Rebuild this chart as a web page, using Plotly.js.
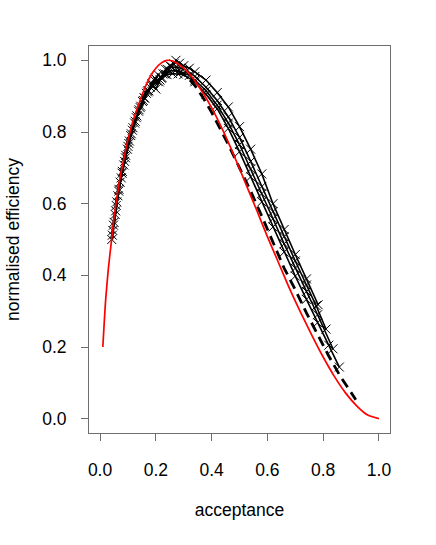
<!DOCTYPE html>
<html>
<head>
<meta charset="utf-8">
<script src="https://cdn.plot.ly/plotly-3.0.1.min.js"></script>
<style>html,body{margin:0;padding:0;background:#fff;}#chart{width:436px;height:545px;}</style>
</head>
<body>
<div id="chart"></div>
<script>
// Red reference curve
const redX = [0.01,0.02,0.03,0.04,0.05,0.06,0.07,0.08,0.10,0.12,0.14,0.16,0.18,0.20,0.22,0.24,0.26,0.28,0.30,0.33,0.36,0.40,0.44,0.48,0.52,0.56,0.60,0.64,0.68,0.72,0.76,0.80,0.84,0.88,0.92,0.96,1.00];
const redY = [0.200,0.330,0.420,0.490,0.560,0.615,0.665,0.705,0.778,0.835,0.880,0.922,0.955,0.978,0.993,1.000,0.998,0.990,0.978,0.953,0.920,0.868,0.805,0.735,0.660,0.585,0.508,0.435,0.362,0.295,0.232,0.172,0.118,0.072,0.036,0.010,0.000];

// Dashed black curve
const dashX = [0.042,0.06,0.08,0.10,0.13,0.16,0.19,0.22,0.25,0.28,0.31,0.34,0.37,0.40,0.43,0.46,0.50,0.54,0.58,0.62,0.66,0.70,0.74,0.78,0.82,0.86,0.917];
const dashY = [0.500,0.615,0.705,0.775,0.850,0.905,0.940,0.960,0.970,0.970,0.955,0.930,0.895,0.855,0.810,0.765,0.700,0.635,0.565,0.492,0.420,0.360,0.295,0.235,0.175,0.120,0.053];

// Solid black curves with x markers
const s1X = [0.042,0.050,0.058,0.068,0.080,0.092,0.105,0.118,0.132,0.146,0.160,0.175,0.190,0.205,0.222,0.240,0.260,0.280,0.300,0.340,0.380,0.420,0.460,0.500,0.540,0.580,0.620,0.660,0.700,0.740,0.780,0.820,0.858];
const s1Y = [0.500,0.548,0.595,0.640,0.690,0.735,0.775,0.812,0.845,0.872,0.895,0.915,0.930,0.942,0.952,0.960,0.963,0.962,0.960,0.940,0.905,0.865,0.810,0.745,0.675,0.605,0.535,0.465,0.398,0.333,0.268,0.205,0.144];

const s2X = [0.044,0.054,0.064,0.076,0.088,0.100,0.112,0.126,0.140,0.155,0.170,0.185,0.200,0.215,0.232,0.250,0.270,0.290,0.320,0.340,0.380,0.420,0.460,0.500,0.540,0.580,0.620,0.660,0.700,0.740,0.780,0.835];
const s2Y = [0.512,0.570,0.622,0.672,0.718,0.760,0.795,0.830,0.862,0.888,0.912,0.930,0.920,0.945,0.962,0.970,0.972,0.968,0.958,0.945,0.915,0.875,0.825,0.765,0.697,0.628,0.558,0.488,0.420,0.355,0.290,0.195];

const s3X = [0.046,0.056,0.067,0.079,0.091,0.103,0.116,0.130,0.144,0.158,0.172,0.186,0.198,0.212,0.226,0.242,0.258,0.275,0.290,0.310,0.340,0.380,0.420,0.460,0.500,0.540,0.580,0.620,0.660,0.700,0.740,0.775,0.810];
const s3Y = [0.525,0.580,0.635,0.685,0.728,0.768,0.805,0.840,0.868,0.895,0.915,0.935,0.950,0.940,0.962,0.975,0.982,0.980,0.978,0.972,0.955,0.925,0.888,0.842,0.785,0.718,0.648,0.578,0.508,0.440,0.373,0.315,0.250];

const s4X = [0.048,0.060,0.072,0.085,0.098,0.110,0.124,0.138,0.152,0.166,0.180,0.194,0.208,0.220,0.235,0.250,0.265,0.272,0.285,0.300,0.320,0.340,0.380,0.420,0.460,0.500,0.540,0.580,0.620,0.660,0.700,0.740,0.782];
const s4Y = [0.540,0.605,0.660,0.708,0.752,0.790,0.825,0.858,0.885,0.908,0.925,0.945,0.960,0.950,0.975,0.985,0.990,1.000,0.992,0.985,0.978,0.968,0.945,0.910,0.870,0.815,0.752,0.683,0.600,0.528,0.458,0.390,0.318];

const tickVals = [0,0.2,0.4,0.6,0.8,1.0];
const tickText = ['0.0','0.2','0.4','0.6','0.8','1.0'];

const solidSeries = [[s1X,s1Y],[s2X,s2Y],[s3X,s3Y],[s4X,s4Y]];
const traces = solidSeries.map(([x,y]) => ({
  x: x, y: y, type: 'scatter', mode: 'lines+markers',
  line: {color: '#000', width: 1.6},
  marker: {symbol: 'x-thin-open', size: 9, color: '#000', line: {color: '#000', width: 1}},
  hoverinfo: 'skip', showlegend: false
}));
traces.push({
  x: dashX, y: dashY, type: 'scatter', mode: 'lines',
  line: {color: '#000', width: 2.8, dash: '10px,6px'},
  hoverinfo: 'skip', showlegend: false
});
traces.push({
  x: redX, y: redY, type: 'scatter', mode: 'lines', line: {color: '#ff0000', width: 1.7, shape: 'spline', smoothing: 0.6},
  hoverinfo: 'skip', showlegend: false
});

const font = {family: '"Liberation Sans", Arial, Helvetica, sans-serif', size: 17.5, color: '#000'};
const axisBase = {
  showgrid: false, zeroline: false, showline: true, mirror: true,
  linecolor: '#6e6e6e', linewidth: 1,
  ticks: 'outside', ticklen: 7, tickwidth: 1, tickcolor: '#6e6e6e',
  tickvals: tickVals, ticktext: tickText, tickfont: font, automargin: false
};
const layout = {
  width: 436, height: 545,
  margin: {l: 89, r: 46, t: 46, b: 112},
  paper_bgcolor: '#fff', plot_bgcolor: '#fff',
  font: font,
  showlegend: false,
  xaxis: Object.assign({}, axisBase, {range: [-0.0396, 1.0396], ticklabelstandoff: 14,
    title: {text: 'acceptance', font: font, standoff: 24}}),
  yaxis: Object.assign({}, axisBase, {range: [-0.04, 1.04], ticklabelstandoff: 11,
    title: {text: 'normalised efficiency', font: font, standoff: 18}})
};
Plotly.newPlot('chart', traces, layout, {staticPlot: true, displayModeBar: false});
</script>
</body>
</html>
